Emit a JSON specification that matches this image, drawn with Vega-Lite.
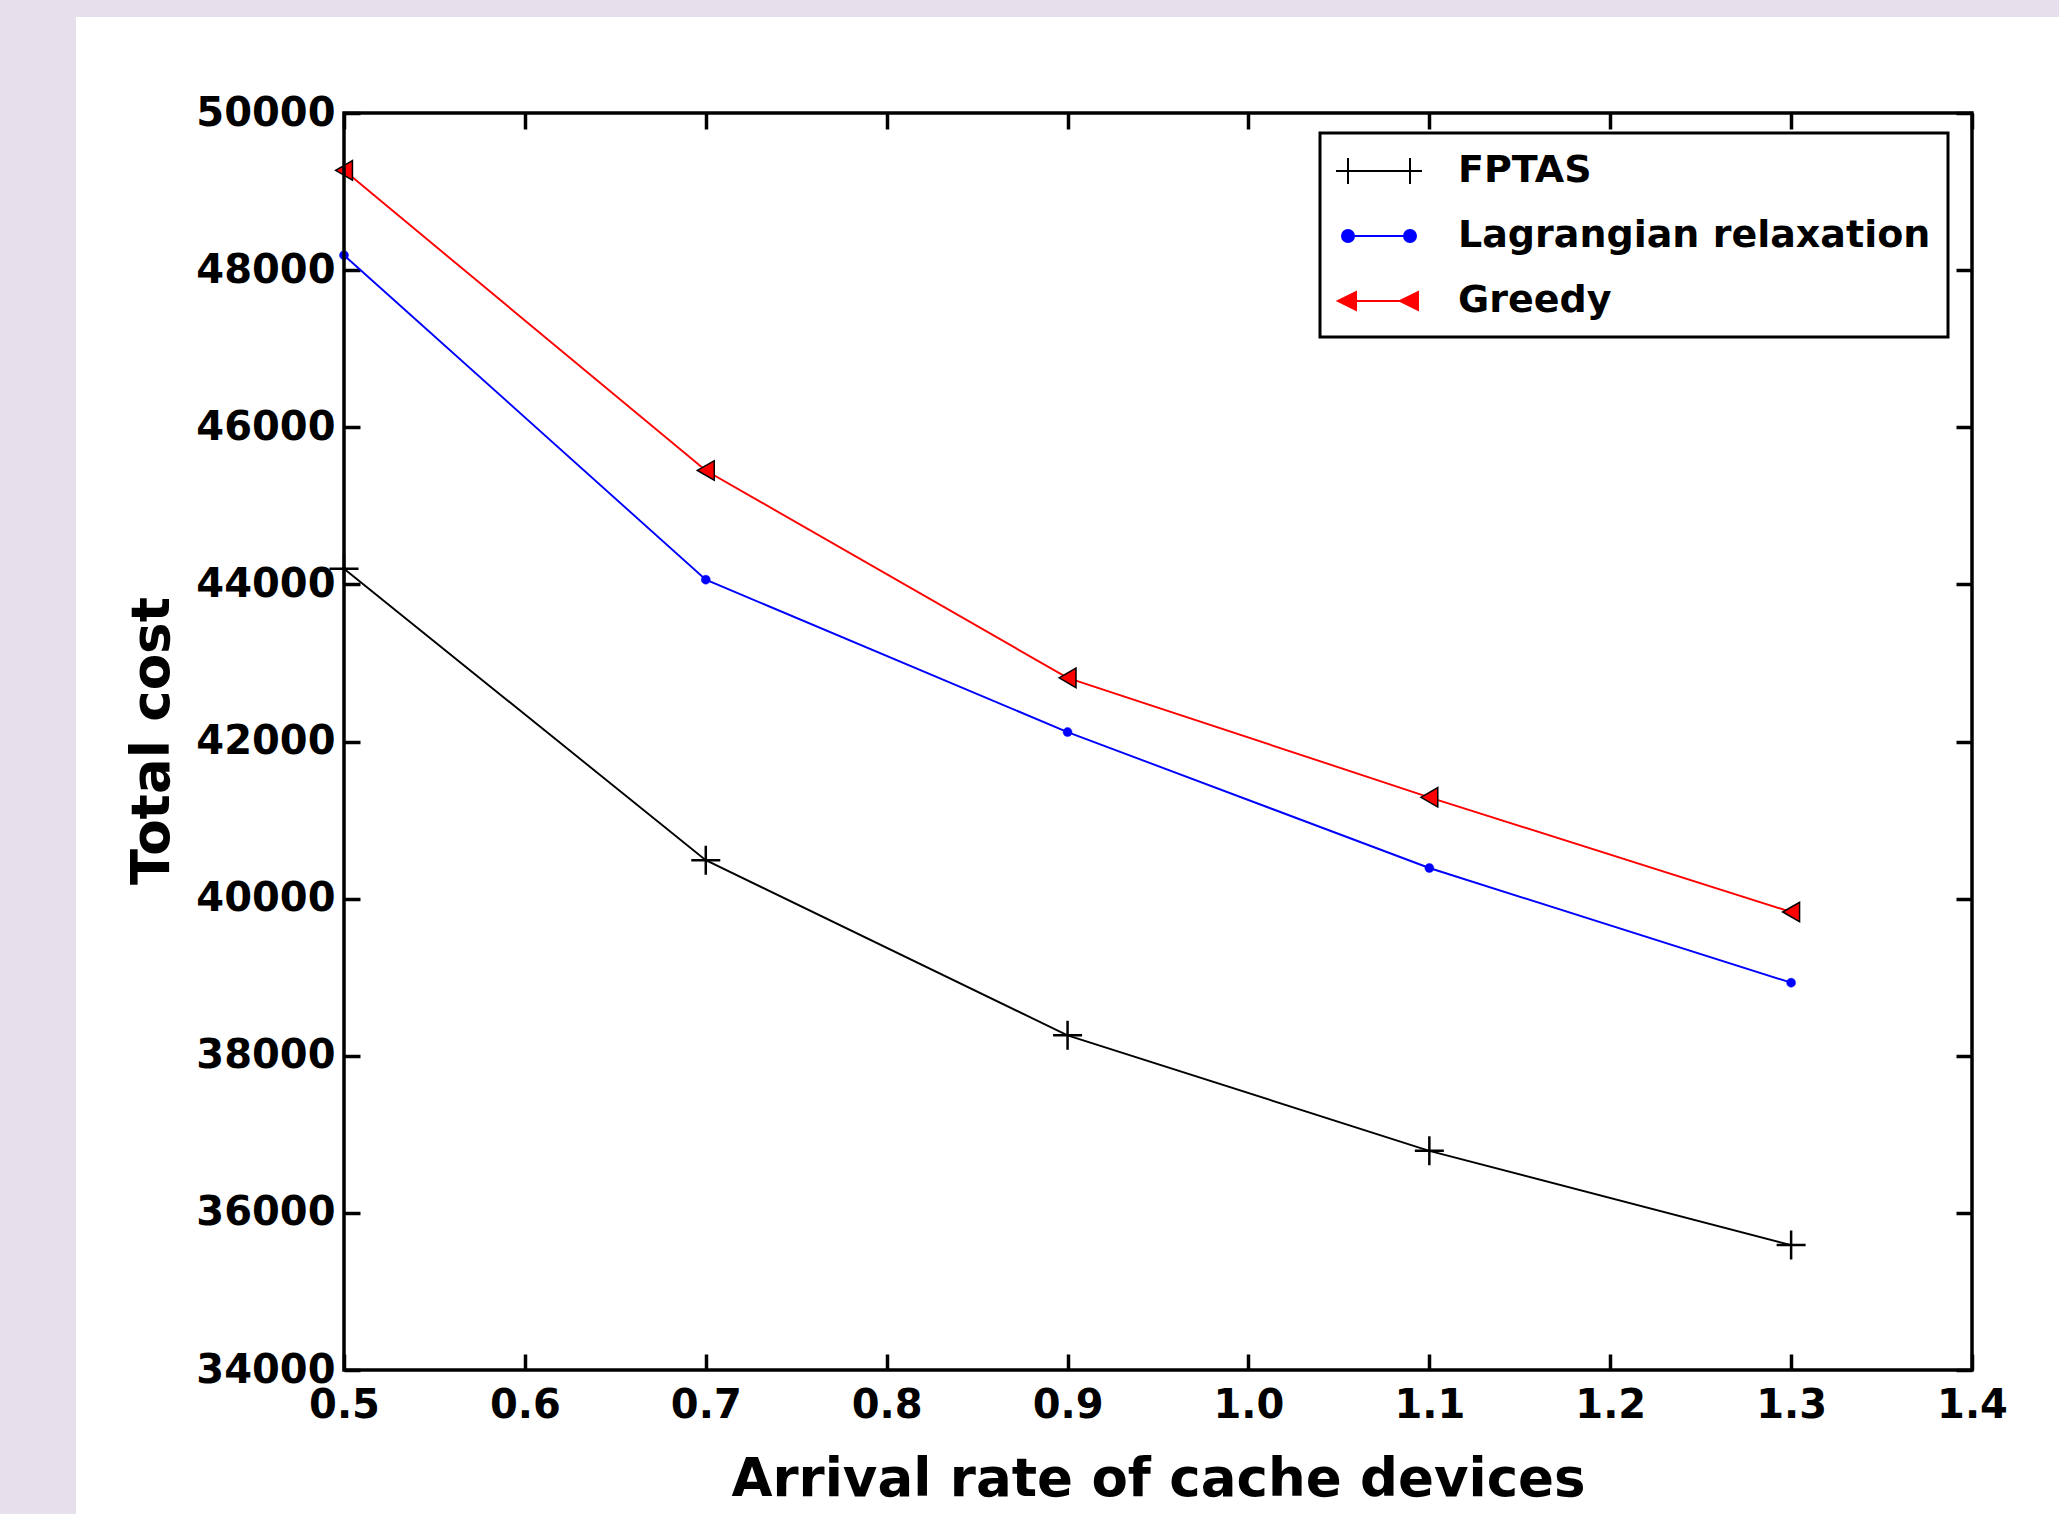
{
  "$schema": "https://vega.github.io/schema/vega-lite/v6.json",
  "width": 1983,
  "height": 1497,
  "autosize": {"type": "none"},
  "padding": {"left": 76, "top": 17, "right": 0, "bottom": 0},
  "background": "#e5e0ec",
  "config": {"view": {"fill": "white", "stroke": null}, "font": "DejaVu Sans", "legend": {"strokeWidth": 3}},
  "datasets": {
    "costs": [
      {"rate": 0.5, "cost": 44200, "series": "FPTAS"},
      {"rate": 0.7, "cost": 40490, "series": "FPTAS"},
      {"rate": 0.9, "cost": 38260, "series": "FPTAS"},
      {"rate": 1.1, "cost": 36790, "series": "FPTAS"},
      {"rate": 1.3, "cost": 35590, "series": "FPTAS"},
      {"rate": 0.5, "cost": 48190, "series": "Lagrangian relaxation"},
      {"rate": 0.7, "cost": 44060, "series": "Lagrangian relaxation"},
      {"rate": 0.9, "cost": 42120, "series": "Lagrangian relaxation"},
      {"rate": 1.1, "cost": 40390, "series": "Lagrangian relaxation"},
      {"rate": 1.3, "cost": 38930, "series": "Lagrangian relaxation"},
      {"rate": 0.5, "cost": 49270, "series": "Greedy"},
      {"rate": 0.7, "cost": 45450, "series": "Greedy"},
      {"rate": 0.9, "cost": 42810, "series": "Greedy"},
      {"rate": 1.1, "cost": 41290, "series": "Greedy"},
      {"rate": 1.3, "cost": 39830, "series": "Greedy"}
    ],
    "frame": [{"x0": 0.5, "x1": 1.4, "y0": 34000, "y1": 50000}]
  },
  "resolve": {"axis": {"x": "independent", "y": "independent"}},
  "layer": [
    {
      "data": {"name": "costs"},
      "transform": [{"filter": "datum.series === 'FPTAS'"}],
      "mark": {"type": "line", "strokeWidth": 1.9, "stroke": "black"},
      "encoding": {
        "x": {"field": "rate", "type": "quantitative", "scale": {"domain": [0.35184, 1.44809], "nice": false, "zero": false},
          "axis": {"orient": "top", "offset": -96, "values": [0.5, 0.6, 0.7, 0.8, 0.9, 1.0, 1.1, 1.2, 1.3, 1.4], "domain": false, "grid": false, "labels": false, "tickSize": -16, "tickWidth": 3.5, "tickColor": "black", "title": null}},
        "y": {"field": "cost", "type": "quantitative", "scale": {"domain": [32167.3, 51222], "nice": false, "zero": false},
          "axis": {"orient": "right", "offset": -87, "values": [34000, 36000, 38000, 40000, 42000, 44000, 46000, 48000, 50000], "domain": false, "grid": false, "labels": false, "tickSize": -16, "tickWidth": 3.5, "tickColor": "black", "title": null}}
      }
    },
    {
      "data": {"name": "costs"},
      "transform": [{"filter": "datum.series === 'Lagrangian relaxation'"}],
      "mark": {"type": "line", "strokeWidth": 1.9, "stroke": "blue"},
      "encoding": {
        "x": {"field": "rate", "type": "quantitative", "axis": null},
        "y": {"field": "cost", "type": "quantitative", "axis": null}
      }
    },
    {
      "data": {"name": "costs"},
      "transform": [{"filter": "datum.series === 'Greedy'"}],
      "mark": {"type": "line", "strokeWidth": 1.9, "stroke": "red"},
      "encoding": {
        "x": {"field": "rate", "type": "quantitative", "axis": null},
        "y": {"field": "cost", "type": "quantitative", "axis": null}
      }
    },
    {
      "data": {"name": "costs"},
      "transform": [{"filter": "datum.series === 'FPTAS'"}],
      "mark": {"type": "point", "shape": "M-1,0L1,0M0,-1L0,1", "size": 841, "filled": false, "stroke": "black", "strokeWidth": 2.5, "opacity": 1},
      "encoding": {
        "x": {"field": "rate", "type": "quantitative", "axis": null},
        "y": {"field": "cost", "type": "quantitative", "axis": null}
      }
    },
    {
      "data": {"name": "costs"},
      "transform": [{"filter": "datum.series === 'Lagrangian relaxation'"}],
      "mark": {"type": "point", "shape": "circle", "size": 80, "filled": true, "fill": "blue", "stroke": "blue", "strokeWidth": 0.5, "opacity": 1},
      "encoding": {
        "x": {"field": "rate", "type": "quantitative", "axis": null},
        "y": {"field": "cost", "type": "quantitative", "axis": null}
      }
    },
    {
      "data": {"name": "costs"},
      "transform": [{"filter": "datum.series === 'Greedy'"}],
      "mark": {"type": "point", "shape": "triangle-left", "size": 380, "filled": true, "fill": "red", "stroke": "black", "strokeWidth": 1.5, "opacity": 1},
      "encoding": {
        "x": {"field": "rate", "type": "quantitative", "axis": null},
        "y": {"field": "cost", "type": "quantitative", "axis": null}
      }
    },
    {
      "data": {"name": "costs"},
      "mark": {"type": "point", "opacity": 0, "filled": true},
      "encoding": {
        "x": {"field": "rate", "type": "quantitative", "axis": null},
        "y": {"field": "cost", "type": "quantitative", "axis": null},
        "shape": {"field": "series", "type": "nominal", "scale": {"domain": ["FPTAS", "Lagrangian relaxation", "Greedy"], "range": [
          "M-2.15,0L2.15,0M-1.55,-0.65L-1.55,0.65M1.55,-0.65L1.55,0.65",
          "M-1.55,0L1.55,0M-1.85,0A0.3,0.3,0,1,1,-1.25,0A0.3,0.3,0,1,1,-1.85,0ZM1.25,0A0.3,0.3,0,1,1,1.85,0A0.3,0.3,0,1,1,1.25,0Z",
          "M-1.55,0L1.55,0M-2.05,0L-1.15,-0.45L-1.15,0.45ZM1.05,0L1.95,-0.45L1.95,0.45Z"
        ]},
          "legend": {"orient": "none", "legendX": 1244, "legendY": 116, "title": null, "strokeColor": "black", "fillColor": "white", "padding": 17, "cornerRadius": 0, "symbolSize": 1600, "symbolStrokeWidth": 2, "symbolOffset": 21, "labelOffset": 58, "labelFont": "DejaVu Sans", "labelFontWeight": "bold", "labelFontSize": 38, "labelColor": "black", "labelLimit": 1000, "rowPadding": 25, "symbolOpacity": 1, "encode": {"symbols": {"update": {"opacity": {"value": 1}}}}}},
        "fill": {"field": "series", "type": "nominal", "scale": {"domain": ["FPTAS", "Lagrangian relaxation", "Greedy"], "range": ["black", "blue", "red"]}},
        "stroke": {"field": "series", "type": "nominal", "scale": {"domain": ["FPTAS", "Lagrangian relaxation", "Greedy"], "range": ["black", "blue", "red"]}}
      }
    },
    {
      "data": {"name": "frame"},
      "mark": {"type": "rect", "filled": false, "stroke": "black", "strokeWidth": 3.5},
      "encoding": {
        "x": {"field": "x0", "type": "quantitative",
          "axis": {"orient": "bottom", "offset": -144, "values": [0.5, 0.6, 0.7, 0.8, 0.9, 1.0, 1.1, 1.2, 1.3, 1.4], "format": ".1f", "domain": false, "grid": false, "tickSize": -16, "tickWidth": 3.5, "tickColor": "black", "labelFont": "DejaVu Sans", "labelFontWeight": "bold", "labelFontSize": 40, "labelColor": "black", "labelPadding": 31, "labelFlush": false, "labelOverlap": false, "labelBound": false, "title": "Arrival rate of cache devices", "titleFont": "DejaVu Sans", "titleFontWeight": "bold", "titleFontSize": 53, "titleColor": "black", "titleX": 1082, "titleY": 125, "titleBaseline": "alphabetic", "titleAlign": "center"}},
        "x2": {"field": "x1"},
        "y": {"field": "y0", "type": "quantitative",
          "axis": {"orient": "left", "offset": -268, "values": [34000, 36000, 38000, 40000, 42000, 44000, 46000, 48000, 50000], "format": "d", "domain": false, "grid": false, "tickSize": -16, "tickWidth": 3.5, "tickColor": "black", "labelFont": "DejaVu Sans", "labelFontWeight": "bold", "labelFontSize": 40, "labelColor": "black", "labelPadding": 25, "labelFlush": false, "labelOverlap": false, "labelBound": false, "title": "Total cost", "titleFont": "DejaVu Sans", "titleFontWeight": "bold", "titleFontSize": 53, "titleColor": "black", "titleX": -176, "titleY": 723.5, "titleAngle": -90, "titleBaseline": "alphabetic", "titleAlign": "center"}},
        "y2": {"field": "y1"}
      }
    }
  ]
}
